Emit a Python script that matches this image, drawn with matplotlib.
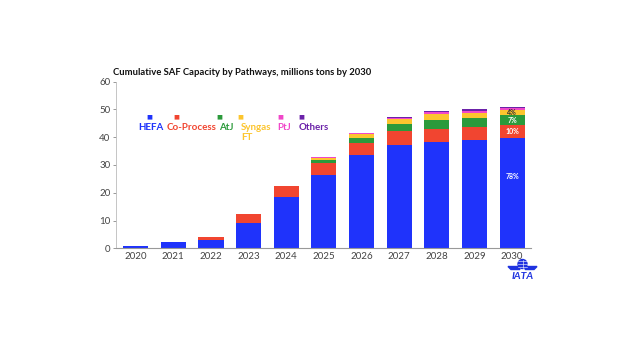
import matplotlib

matplotlib.use("Agg")
import matplotlib.pyplot as plt  # noqa: E402
import numpy as np  # noqa: E402
from matplotlib.patches import Circle, Polygon  # noqa: E402

plt.rcParams["font.family"] = ["Lato", "DejaVu Sans"]

# millions of tons
YEARS = ["2020", "2021", "2022", "2023", "2024", "2025",
         "2026", "2027", "2028", "2029", "2030"]
HEFA = [1.0, 2.1, 3.1, 9.2, 18.3, 26.3, 33.5, 37.2, 38.3, 38.9, 39.6]
CO_PROCESS = [0.0, 0.0, 1.1, 3.0, 4.0, 4.4, 4.4, 4.9, 4.7, 4.6, 4.7]
ATJ = [0.0, 0.0, 0.0, 0.0, 0.0, 1.1, 1.9, 2.6, 3.3, 3.5, 3.6]
SYNGAS_FT = [0.0, 0.0, 0.0, 0.0, 0.0, 0.6, 1.3, 1.7, 2.0, 1.7, 1.9]
PTJ = [0.0, 0.0, 0.0, 0.0, 0.0, 0.3, 0.3, 0.6, 0.6, 0.7, 0.7]
OTHERS = [0.0, 0.0, 0.0, 0.0, 0.0, 0.1, 0.1, 0.2, 0.4, 0.6, 0.4]

SERIES = [
    ("HEFA", HEFA, "#1f33fb"),
    ("Co-Process", CO_PROCESS, "#f14530"),
    ("AtJ", ATJ, "#2b9a3b"),
    ("Syngas\nFT", SYNGAS_FT, "#fcc52e"),
    ("PtJ", PTJ, "#f047c9"),
    ("Others", OTHERS, "#6b22a9"),
]
SHARE_LABELS = ["78%", "10%", "7%", "4%"]

W, H = 640, 350
fig = plt.figure(figsize=(6.4, 3.5), dpi=100)
ax = fig.add_axes([116 / W, 1 - 248.3 / H, 415 / W, 166.8 / H])

x = np.arange(len(YEARS))
bottom = np.zeros(len(YEARS))
for name, vals, color in SERIES:
    ax.bar(x, vals, width=0.67, bottom=bottom, color=color, linewidth=0)
    bottom += np.array(vals)

# share labels on the 2030 bar
last = len(YEARS) - 1
stack = [HEFA, CO_PROCESS, ATJ, SYNGAS_FT]
label_y = [HEFA[last] * 0.65]
b = HEFA[last]
for vals in stack[1:]:
    label_y.append(b + vals[last] / 2)
    b += vals[last]
for txt, yy, col in zip(SHARE_LABELS, label_y, ["white", "white", "white", "#333333"]):
    ax.text(last, yy, txt, ha="center", va="center", color=col,
            fontsize=5, fontweight="bold")

ax.set_xlim(-0.52, 10.5)
ax.set_ylim(0, 60)
ax.set_xticks(x)
ax.set_xticklabels(YEARS)
ax.set_yticks(range(0, 61, 10))
ax.tick_params(axis="both", colors="#888888", labelcolor="#444444",
               labelsize=7, length=2, width=0.6, pad=2)
ax.tick_params(axis="x", length=0, pad=3)
for side in ("top", "right"):
    ax.spines[side].set_visible(False)
ax.spines["left"].set_color("#bbbbbb")
ax.spines["bottom"].set_color("#999999")
ax.spines["left"].set_linewidth(0.6)
ax.spines["bottom"].set_linewidth(0.8)

fig.text(113 / W, 1 - 72.5 / H,
         "Cumulative SAF Capacity by Pathways, millions tons by 2030",
         fontsize=6.8, fontweight="bold", color="#111111", va="center", ha="left")

# hand-placed legend: small squares above coloured labels
marker_x = [149, 176, 219, 240, 280, 301]
text_x = [138, 167, 219, 241, 277, 299]
for (name, _, color), mx, tx in zip(SERIES, marker_x, text_x):
    fig.text(mx / W, 1 - 116.5 / H, "\u25a0", color=color, fontsize=4.5,
             family="DejaVu Sans", ha="center", va="center")
    fig.text(tx / W, 1 - 123 / H, name, color=color, fontsize=7,
             fontweight="bold", ha="left", va="top", linespacing=1.1)

# IATA logo
logo = fig.add_axes([505 / W, 1 - 285 / H, 35 / W, 30 / H])
logo.set_xlim(0, 35)
logo.set_ylim(0, 30)
logo.axis("off")
blue = "#1f33e0"
logo.add_patch(Circle((17.5, 21), 4.5, color=blue))
for k in (-2, 0, 2):
    logo.plot([13.2, 21.8], [21 + k * 1.3, 21 + k * 1.3], color="white", lw=0.4)
logo.plot([17.5, 17.5], [16.6, 25.4], color="white", lw=0.4)
logo.add_patch(Polygon([[3, 18.5], [13, 18.5], [15, 15.5], [6, 15.5]], color=blue))
logo.add_patch(Polygon([[32, 18.5], [22, 18.5], [20, 15.5], [29, 15.5]], color=blue))
logo.text(17.5, 8.5, "IATA", color=blue, fontsize=7.5, fontweight="bold",
          fontstyle="italic", ha="center", va="center")

fig.savefig("out.png", dpi=100, facecolor="white")
